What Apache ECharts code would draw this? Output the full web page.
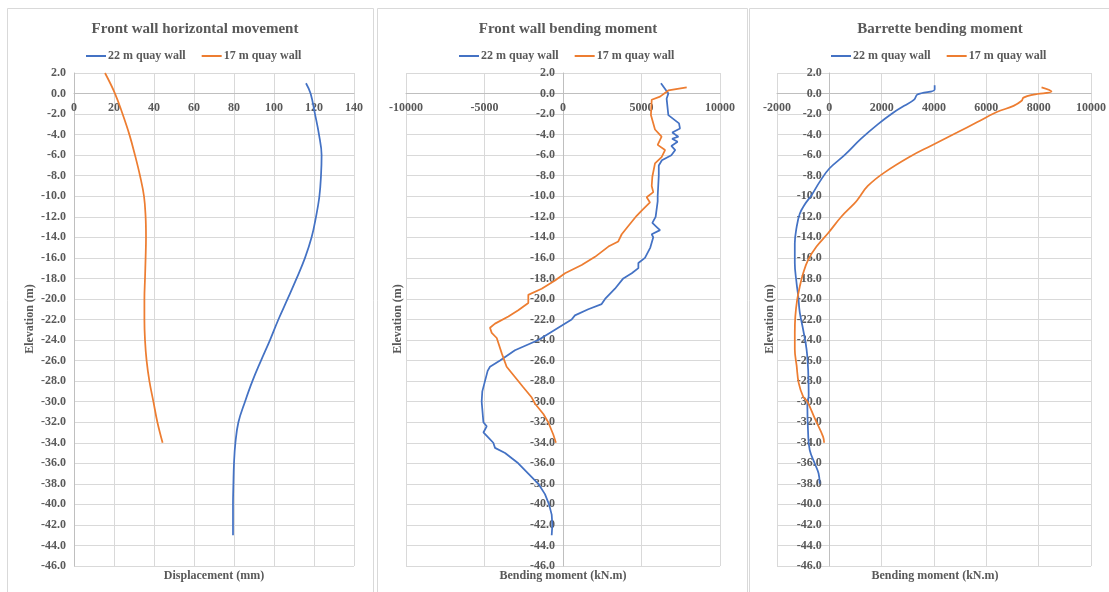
<!DOCTYPE html>
<html>
<head>
<meta charset="utf-8">
<script src="https://cdn.jsdelivr.net/npm/echarts@6/dist/echarts.min.js"></script>
<style>
html,body{margin:0;padding:0;background:#fff;}
#chart{width:1109px;height:592px;}
</style>
</head>
<body>
<div id="chart"></div>
<script>
// ---------- DATA ----------
const seriesNames = ['22 m quay wall', '17 m quay wall'];
const panelTitles = ['Front wall horizontal movement', 'Front wall bending moment', 'Barrette bending moment'];
const xAxisNames = ['Displacement (mm)', 'Bending moment (kN.m)', 'Bending moment (kN.m)'];
const yAxisName = 'Elevation (m)';

// Panel 1: Front wall horizontal movement (mm)
const p1BlueElev = [1.0, 0.0, -2, -4, -6, -8, -10, -12, -14, -16, -18, -20, -22, -24, -26, -28, -30, -32, -34, -36, -38, -40, -43];
const p1BlueDisp = [116, 118.3, 120.5, 122.5, 123.8, 123.5, 122.7, 121, 118.8, 115.5, 111.3, 106.8, 102.2, 98, 93.5, 89.2, 85.5, 82.2, 80.7, 80, 79.7, 79.5, 79.5];
const p1OrangeElev = [2, 0, -2, -4, -6, -8, -10, -12, -14, -16, -18, -20, -22, -24, -26, -28, -30, -32, -34];
const p1OrangeDisp = [15.5, 20.5, 24.3, 27.7, 30.5, 33, 35, 35.8, 36, 35.8, 35.5, 35.2, 35.2, 35.5, 36.3, 37.7, 39.7, 41.7, 44.3];

// Panel 2: Front wall bending moment (kN.m)
const p2BlueElev = [1.0, 0.0, -0.5, -2.1, -2.9, -3.4, -3.8, -4.2, -4.4, -4.7, -5.1, -5.5, -6.0, -6.5, -7, -8, -10, -10.5, -12, -12.6, -13.0, -13.3, -13.7, -14.0, -15, -16, -16.5, -17, -17.5, -18, -19, -20, -20.5, -21, -21.6, -22, -23, -24, -25, -26, -26.6, -27, -28, -29, -30, -32, -32.4, -33, -33.5, -34, -34.5, -35, -36, -37, -38, -39, -40, -41, -42, -43];
const p2BlueMoment = [6240, 6710, 6600, 6710, 7390, 7450, 6960, 7350, 6950, 7300, 6900, 7150, 6900, 6300, 6100, 6100, 6030, 6030, 5900, 5690, 5970, 6180, 5650, 5750, 5560, 5220, 4800, 4800, 4380, 3840, 3310, 2680, 2460, 1610, 760, 550, -510, -1570, -3060, -4010, -4650, -4800, -4970, -5140, -5180, -5070, -4860, -5070, -4750, -4440, -4330, -3690, -2850, -2210, -1570, -1150, -890, -720, -680, -720];
const p2OrangeElev = [0.6, 0.3, -0.3, -0.6, -2.1, -3.5, -4.2, -5.0, -5.5, -6.2, -6.8, -8.1, -9.0, -9.6, -10.1, -10.6, -11.4, -11.9, -12.9, -13.7, -14.4, -14.9, -15.9, -16.7, -17.5, -18.2, -19.0, -19.6, -20.4, -21.1, -21.7, -22.4, -22.8, -23.3, -23.8, -25.3, -26.6, -27.6, -28.6, -29.6, -30.2, -31.2, -32.0, -33.2, -34.0];
const p2OrangeMoment = [7880, 6710, 6180, 5650, 5600, 5860, 6280, 6030, 6500, 6280, 5860, 5690, 5650, 5750, 5330, 5540, 5010, 4690, 4160, 3740, 3520, 2890, 2040, 1190, 130, -510, -1360, -2210, -2210, -2850, -3480, -4330, -4650, -4540, -4220, -3900, -3590, -3060, -2530, -1990, -1780, -1250, -940, -620, -450];

// Panel 3: Barrette bending moment (kN.m)
const p3BlueElev = [0.8, 0.4, -0.1, -0.6, -1.2, -1.8, -3.0, -4.4, -6.0, -7.3, -8.6, -9.9, -10.8, -11.7, -13.0, -14.6, -16.5, -18.5, -19.7, -21.3, -23.0, -24.9, -26.9, -29.4, -30.3, -33.1, -34.7, -36.0, -37.0, -38.0];
const p3BlueMoment = [4025, 4025, 3365, 3240, 2860, 2480, 1850, 1215, 580, 0, -370, -680, -940, -1130, -1250, -1320, -1320, -1250, -1190, -1130, -1000, -870, -810, -790, -840, -810, -750, -560, -410, -370];
const p3OrangeElev = [0.6, 0.2, -0.1, -0.4, -0.7, -1.2, -1.8, -2.8, -3.8, -5.1, -6.1, -7.7, -9.0, -10.3, -10.7, -12.0, -13.6, -14.9, -16.2, -17.5, -18.8, -20.1, -21.7, -23.3, -24.9, -26.5, -28.2, -29.5, -30.0, -31.6, -33.4, -34.0];
const p3OrangeMoment = [8110, 8490, 7800, 7420, 7350, 7040, 6400, 5640, 4880, 3870, 3110, 2100, 1470, 1090, 960, 456, -50, -490, -810, -1000, -1130, -1230, -1300, -1320, -1320, -1250, -1170, -1000, -840, -560, -240, -200];

// Axis ranges / ticks
const xRanges = [[0, 140, 20], [-10000, 10000, 5000], [-2000, 10000, 2000]];
const yRange = [-46, 2, 2];

// ---------- CHART ----------
const zip = (xs, ys) => xs.slice(0, Math.min(xs.length, ys.length)).map((x, i) => [x, ys[i]]);

const font = 'Liberation Serif';
const txt = '#595959';
const gridLine = '#d9d9d9';
const axisLine = '#bfbfbf';
const blue = '#4472C4';
const orange = '#ED7D31';

// layout
const grids = [
  { left: 74, top: 73, width: 280, height: 493 },
  { left: 406, top: 73, width: 314, height: 493 },
  { left: 777, top: 73, width: 316, height: 493 }
];
const panels = [[7, 373], [377, 747], [749, 1116]];
const panelCenters = [190, 563, 935];

const seriesData = [
  [zip(p1BlueDisp, p1BlueElev), zip(p1OrangeDisp, p1OrangeElev), true],
  [zip(p2BlueMoment, p2BlueElev), zip(p2OrangeMoment, p2OrangeElev), false],
  [zip(p3BlueMoment, p3BlueElev), zip(p3OrangeMoment, p3OrangeElev), true]
];

// axes cross at zero: compute offsets so each axis sits on the other's zero
const xAxisOffset = i => -grids[i].height * (0 - yRange[0]) / (yRange[1] - yRange[0]);
const yAxisOffset = i => -grids[i].width * (0 - xRanges[i][0]) / (xRanges[i][1] - xRanges[i][0]);

const labelStyle = { fontFamily: font, fontSize: 12, fontWeight: 'bold', color: txt };

const option = {
  backgroundColor: '#ffffff',
  animation: false,
  title: panelTitles.map((t, i) => ({
    text: t, left: panelCenters[i], top: 17, textAlign: 'center',
    textStyle: { fontFamily: font, fontSize: 15, fontWeight: 'bold', color: txt }
  })),
  legend: [0, 1, 2].map(i => ({
    data: seriesNames,
    left: panelCenters[i] - 109, top: 45,
    icon: 'rect', itemWidth: 20, itemHeight: 2, itemGap: 16,
    textStyle: { fontFamily: font, fontSize: 12, fontWeight: 'bold', color: txt, padding: [0, 0, 0, -3] },
    selectedMode: false
  })),
  grid: grids,
  xAxis: xRanges.map((r, i) => ({
    type: 'value', gridIndex: i, min: r[0], max: r[1], interval: r[2],
    position: 'bottom', offset: xAxisOffset(i),
    axisLine: { show: true, onZero: false, lineStyle: { color: axisLine, width: 1 } },
    axisTick: { show: false },
    axisLabel: Object.assign({ margin: 8, formatter: v => String(v) }, labelStyle),
    splitLine: { show: true, lineStyle: { color: gridLine, width: 1 } }
  })),
  yAxis: [0, 1, 2].map(i => ({
    type: 'value', gridIndex: i, min: yRange[0], max: yRange[1], interval: yRange[2],
    position: 'left', offset: yAxisOffset(i),
    axisLine: { show: true, onZero: false, lineStyle: { color: axisLine, width: 1 } },
    axisTick: { show: false },
    axisLabel: Object.assign({ margin: 8, formatter: v => v.toFixed(1) }, labelStyle),
    splitLine: { show: true, lineStyle: { color: gridLine, width: 1 } }
  })),
  series: [],
  graphic: []
};

seriesData.forEach((d, i) => {
  [0, 1].forEach(k => {
    option.series.push({
      type: 'line', name: seriesNames[k], xAxisIndex: i, yAxisIndex: i,
      data: d[k], showSymbol: false, symbol: 'none',
      smooth: d[2] ? 0.4 : false,
      lineStyle: { color: k === 0 ? blue : orange, width: 1.75 },
      itemStyle: { color: k === 0 ? blue : orange },
      z: k === 0 ? 3 : 4
    });
  });
});

// panel borders
panels.forEach(p => {
  option.graphic.push({
    type: 'rect', silent: true, z: -10,
    shape: { x: p[0] + 0.5, y: 8.5, width: p[1] - p[0], height: 600 },
    style: { fill: 'none', stroke: gridLine, lineWidth: 1 }
  });
});
// axis names
grids.forEach((g, i) => {
  option.graphic.push({
    type: 'text', silent: true,
    x: g.left + g.width / 2, y: 576,
    style: { text: xAxisNames[i], font: 'bold 12px "' + font + '"', fill: txt, align: 'center', verticalAlign: 'middle' }
  });
});
const yNameX = [30, 398, 770];
yNameX.forEach(x => {
  option.graphic.push({
    type: 'text', silent: true,
    x: x, y: 319, rotation: Math.PI / 2,
    style: { text: yAxisName, font: 'bold 12px "' + font + '"', fill: txt, align: 'center', verticalAlign: 'middle' }
  });
});

const chart = echarts.init(document.getElementById('chart'), null, { renderer: 'canvas' });
chart.setOption(option);
</script>
</body>
</html>
